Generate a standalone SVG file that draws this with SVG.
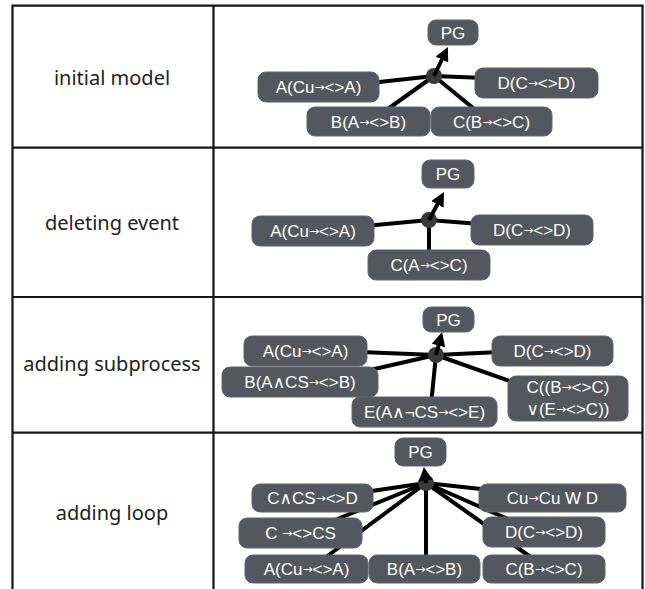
<svg xmlns="http://www.w3.org/2000/svg" width="645" height="589" viewBox="0 0 645 589">
<style>
.grid{stroke:#151515;stroke-width:2.2;fill:none}
.lbl{font-family:"Noto Sans","Liberation Sans",sans-serif;font-size:20px;fill:#222;text-anchor:middle}
.node rect{fill:#54575d;stroke:#62656b;stroke-width:1}
.node text{font-family:"Liberation Sans","DejaVu Sans",sans-serif;font-size:17px;fill:#fff;text-anchor:middle}
.ar{font-family:"DejaVu Sans",sans-serif;font-size:12px}
.con line{stroke:#000;stroke-width:4;stroke-linecap:butt}
.hub{fill:#3a3a3c}
</style>
<defs>
<marker id="ah" viewBox="0 0 14 14" refX="4" refY="7" markerWidth="14" markerHeight="14" markerUnits="userSpaceOnUse" orient="auto">
<path d="M0,0 L14,7 L0,14 z" fill="#000"/>
</marker>
</defs>
<rect width="645" height="589" fill="#fff"/>
<g id="table">
<path class="grid" d="M12.5,592 V5.7 H642.5 V592 M213.5,5.7 V592 M12.5,147.7 H642.5 M12.5,297 H642.5 M12.5,432.7 H642.5"/>
<text class="lbl" x="112" y="85">initial model</text>
<text class="lbl" x="112" y="230">deleting event</text>
<text class="lbl" x="112" y="371">adding subprocess</text>
<text class="lbl" x="112" y="520">adding loop</text>
</g>
<g id="connectors" class="con">
<line x1="434" y1="76" x2="370" y2="83"/>
<line x1="434" y1="76" x2="485" y2="78"/>
<line x1="434" y1="76" x2="385" y2="111"/>
<line x1="434" y1="76" x2="478" y2="112"/>
<line x1="429" y1="220" x2="365" y2="226"/>
<line x1="429" y1="220" x2="480" y2="224"/>
<line x1="429" y1="220" x2="429" y2="258"/>
<line x1="436" y1="355" x2="360" y2="352"/>
<line x1="436" y1="355" x2="370" y2="370"/>
<line x1="436" y1="355" x2="431" y2="405"/>
<line x1="436" y1="355" x2="500" y2="352"/>
<line x1="436" y1="355" x2="515" y2="383"/>
<line x1="426" y1="483" x2="365" y2="492"/>
<line x1="426" y1="483" x2="335" y2="520"/>
<line x1="426" y1="483" x2="322" y2="560"/>
<line x1="426" y1="483" x2="426" y2="560"/>
<line x1="426" y1="483" x2="490" y2="490"/>
<line x1="426" y1="483" x2="510" y2="520"/>
<line x1="426" y1="483" x2="532" y2="558"/>
<circle class="hub" cx="434" cy="76" r="8"/>
<circle class="hub" cx="429" cy="220" r="8"/>
<circle class="hub" cx="436" cy="355" r="8"/>
<circle class="hub" cx="426" cy="483" r="8"/>
<line x1="434" y1="76" x2="443.6" y2="56" marker-end="url(#ah)"/>
<line x1="429" y1="220" x2="439.3" y2="200.8" marker-end="url(#ah)"/>
<line x1="436" y1="355" x2="439.5" y2="341.7" marker-end="url(#ah)"/>
<line x1="426" y1="483" x2="425.2" y2="476.9" marker-end="url(#ah)"/>
</g>
<g id="r1-pg" class="node"><rect x="428" y="20" width="50" height="25" rx="8"/><text x="453" y="38.5">PG</text></g>
<g id="r1-a" class="node"><rect x="258" y="72" width="121" height="30" rx="8"/><text x="318.5" y="93">A(Cu<tspan class="ar" dy="-2">→</tspan><tspan dy="2">&lt;&gt;A)</tspan></text></g>
<g id="r1-d" class="node"><rect x="475" y="68" width="123" height="30" rx="8"/><text x="536.5" y="89">D(C<tspan class="ar" dy="-2">→</tspan><tspan dy="2">&lt;&gt;D)</tspan></text></g>
<g id="r1-b" class="node"><rect x="307" y="107" width="123" height="29" rx="8"/><text x="368.5" y="127.5">B(A<tspan class="ar" dy="-2">→</tspan><tspan dy="2">&lt;&gt;B)</tspan></text></g>
<g id="r1-c" class="node"><rect x="431" y="107" width="121" height="29" rx="8"/><text x="491.5" y="127.5">C(B<tspan class="ar" dy="-2">→</tspan><tspan dy="2">&lt;&gt;C)</tspan></text></g>
<g id="r2-pg" class="node"><rect x="422" y="160" width="52" height="28" rx="8"/><text x="448" y="180">PG</text></g>
<g id="r2-a" class="node"><rect x="252" y="216" width="122" height="30" rx="8"/><text x="313" y="237">A(Cu<tspan class="ar" dy="-2">→</tspan><tspan dy="2">&lt;&gt;A)</tspan></text></g>
<g id="r2-d" class="node"><rect x="471" y="215" width="122" height="30" rx="8"/><text x="532" y="236">D(C<tspan class="ar" dy="-2">→</tspan><tspan dy="2">&lt;&gt;D)</tspan></text></g>
<g id="r2-c" class="node"><rect x="368" y="250" width="122" height="30" rx="8"/><text x="429" y="271">C(A<tspan class="ar" dy="-2">→</tspan><tspan dy="2">&lt;&gt;C)</tspan></text></g>
<g id="r3-pg" class="node"><rect x="423" y="307" width="51" height="25" rx="8"/><text x="448.5" y="325.5">PG</text></g>
<g id="r3-a" class="node"><rect x="244" y="336" width="123" height="30" rx="8"/><text x="305.5" y="357">A(Cu<tspan class="ar" dy="-2">→</tspan><tspan dy="2">&lt;&gt;A)</tspan></text></g>
<g id="r3-d" class="node"><rect x="492" y="336" width="121" height="30" rx="8"/><text x="552.5" y="357">D(C<tspan class="ar" dy="-2">→</tspan><tspan dy="2">&lt;&gt;D)</tspan></text></g>
<g id="r3-b" class="node"><rect x="222" y="367" width="156" height="30" rx="8"/><text x="300" y="388">B(A∧CS<tspan class="ar" dy="-2">→</tspan><tspan dy="2">&lt;&gt;B)</tspan></text></g>
<g id="r3-e" class="node"><rect x="352" y="397" width="145" height="30" rx="8"/><text x="424.5" y="418">E(A∧¬CS<tspan class="ar" dy="-2">→</tspan><tspan dy="2">&lt;&gt;E)</tspan></text></g>
<g id="r3-c" class="node"><rect x="508" y="376" width="120" height="45" rx="8"/><text x="568" y="393">C((B<tspan class="ar" dy="-2">→</tspan><tspan dy="2">&lt;&gt;C)</tspan></text><text x="568" y="415">∨(E<tspan class="ar" dy="-2">→</tspan><tspan dy="2">&lt;&gt;C))</tspan></text></g>
<g id="r4-pg" class="node"><rect x="395" y="438" width="51" height="28" rx="8"/><text x="420.5" y="458">PG</text></g>
<g id="r4-ccs" class="node"><rect x="252" y="484" width="121" height="28" rx="8"/><text x="312.5" y="504">C∧CS<tspan class="ar" dy="-2">→</tspan><tspan dy="2">&lt;&gt;D</tspan></text></g>
<g id="r4-cu" class="node"><rect x="479" y="484" width="147" height="28" rx="8"/><text x="552.5" y="504">Cu<tspan class="ar" dy="-2">→</tspan><tspan dy="2">Cu W D</tspan></text></g>
<g id="r4-c" class="node"><rect x="239" y="518" width="123" height="30" rx="8"/><text x="300.5" y="539">C <tspan class="ar" dy="-2">→</tspan><tspan dy="2">&lt;&gt;CS</tspan></text></g>
<g id="r4-d" class="node"><rect x="483" y="517" width="122" height="30" rx="8"/><text x="544" y="538">D(C<tspan class="ar" dy="-2">→</tspan><tspan dy="2">&lt;&gt;D)</tspan></text></g>
<g id="r4-a" class="node"><rect x="245" y="555" width="123" height="28" rx="8"/><text x="306.5" y="575">A(Cu<tspan class="ar" dy="-2">→</tspan><tspan dy="2">&lt;&gt;A)</tspan></text></g>
<g id="r4-b" class="node"><rect x="369" y="555" width="111" height="28" rx="8"/><text x="424.5" y="575">B(A<tspan class="ar" dy="-2">→</tspan><tspan dy="2">&lt;&gt;B)</tspan></text></g>
<g id="r4-cb" class="node"><rect x="483" y="555" width="122" height="28" rx="8"/><text x="544" y="575">C(B<tspan class="ar" dy="-2">→</tspan><tspan dy="2">&lt;&gt;C)</tspan></text></g>
</svg>
